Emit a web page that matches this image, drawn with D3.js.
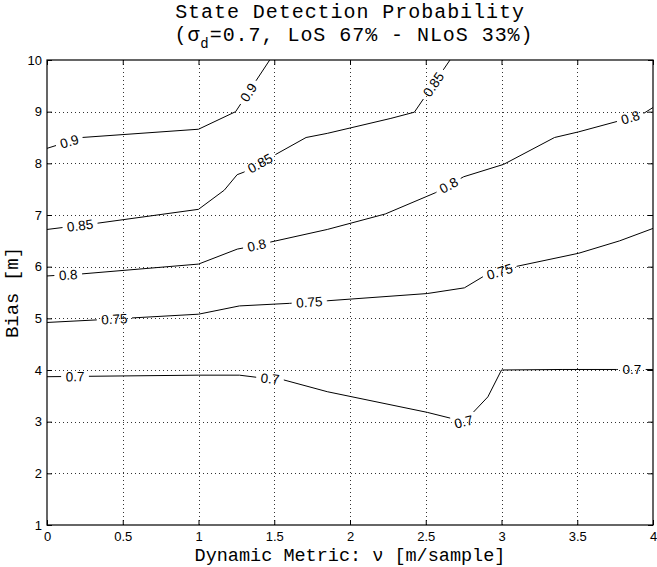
<!DOCTYPE html>
<html>
<head>
<meta charset="utf-8">
<script src="https://cdn.jsdelivr.net/npm/d3@7/dist/d3.min.js"></script>
<style>
  body { margin: 0; background: #fff; }
  svg { display: block; }
</style>
</head>
<body>
<svg id="chart" width="657" height="567"></svg>
<script>
// Axis ticks
const xTicks = [0, 0.5, 1, 1.5, 2, 2.5, 3, 3.5, 4];
const xTickLabels = ["0", "0.5", "1", "1.5", "2", "2.5", "3", "3.5", "4"];
const yTicks = [1, 2, 3, 4, 5, 6, 7, 8, 9, 10];
const yTickLabels = ["1", "2", "3", "4", "5", "6", "7", "8", "9", "10"];

// Contour level names
const levelNames = ["0.7", "0.75", "0.8", "0.85", "0.9"];

// Iso-probability lines: dynamic metric (x) vs bias (y), plus the x where each inline label sits
const c070x = [0, 1.0, 1.27, 1.38, 1.56, 1.85, 2.51, 2.66, 2.75, 2.81, 2.91, 3.0, 3.4, 3.76, 4.0];
const c070y = [3.87, 3.90, 3.90, 3.86, 3.81, 3.58, 3.18, 3.07, 3.0, 3.17, 3.48, 4.0, 4.01, 4.01, 4.01];
const c070lab = [0.185, 1.472, 2.75, 3.86];

const c075x = [0, 0.33, 1.0, 1.27, 1.6, 1.85, 2.51, 2.755, 2.88, 3.09, 3.51, 3.78, 4.0];
const c075y = [4.92, 4.97, 5.08, 5.24, 5.29, 5.34, 5.48, 5.59, 5.81, 6.0, 6.26, 6.50, 6.74];
const c075lab = [0.445, 1.731, 2.988];

const c080x = [0, 0.23, 1.0, 1.256, 1.32, 1.45, 1.85, 2.233, 2.563, 2.75, 3.014, 3.35, 3.51, 3.762, 3.94, 4.0];
const c080y = [5.82, 5.86, 6.05, 6.34, 6.375, 6.46, 6.72, 7.02, 7.43, 7.74, 7.98, 8.50, 8.61, 8.81, 8.97, 9.08];
const c080lab = [0.14, 1.384, 2.651, 3.85];

const c085x = [0, 0.33, 1.0, 1.17, 1.255, 1.30, 1.71, 1.85, 2.27, 2.425, 2.66];
const c085y = [6.72, 6.84, 7.11, 7.48, 7.78, 7.83, 8.50, 8.58, 8.87, 8.99, 10.0];
const c085lab = [0.218, 1.406, 2.55];

const c090x = [0, 0.229, 1.0, 1.245, 1.47];
const c090y = [8.29, 8.50, 8.66, 9.0, 10.0];
const c090lab = [0.147, 1.329];

const contours = [
  { name: levelNames[0], xs: c070x, ys: c070y, labels: c070lab },
  { name: levelNames[1], xs: c075x, ys: c075y, labels: c075lab },
  { name: levelNames[2], xs: c080x, ys: c080y, labels: c080lab },
  { name: levelNames[3], xs: c085x, ys: c085y, labels: c085lab },
  { name: levelNames[4], xs: c090x, ys: c090y, labels: c090lab }
];

const svg = d3.select("#chart");
const plot = { left: 47, right: 653, top: 60, bottom: 525 };

const x = d3.scaleLinear().domain([0, 4]).range([plot.left, plot.right]);
const y = d3.scaleLinear().domain([1, 10]).range([plot.bottom, plot.top]);

const sansFont = "'Liberation Sans', Arial, Helvetica, sans-serif";
const monoFont = "'Liberation Mono', 'Courier New', monospace";

// Dotted grid
const grid = svg.append("g").attr("class", "grid")
  .attr("stroke", "#333").attr("stroke-width", 1).attr("stroke-dasharray", "1,3");
grid.selectAll("line.vx").data(xTicks.slice(1, -1)).join("line")
  .attr("x1", d => Math.round(x(d)) + 0.5).attr("x2", d => Math.round(x(d)) + 0.5)
  .attr("y1", plot.top).attr("y2", plot.bottom);
grid.selectAll("line.hy").data(yTicks.slice(1, -1)).join("line")
  .attr("x1", plot.left).attr("x2", plot.right)
  .attr("y1", d => Math.round(y(d)) + 0.5).attr("y2", d => Math.round(y(d)) + 0.5);

// Axes with inward ticks on all four sides
function styleAxis(g) {
  g.select(".domain").remove();
  g.selectAll(".tick line").attr("stroke", "#000");
  g.selectAll(".tick text").attr("fill", "#000");
  g.attr("font-family", sansFont).attr("font-size", 13);
}
svg.append("g").attr("transform", `translate(0,${plot.bottom})`)
  .call(d3.axisBottom(x).tickValues(xTicks).tickFormat((d, i) => xTickLabels[i])
    .tickSizeInner(-5).tickSizeOuter(0).tickPadding(7))
  .call(styleAxis);
svg.append("g").attr("transform", `translate(0,${plot.top})`)
  .call(d3.axisTop(x).tickValues(xTicks).tickFormat("").tickSizeInner(-5).tickSizeOuter(0))
  .call(styleAxis);
svg.append("g").attr("transform", `translate(${plot.left},0)`)
  .call(d3.axisLeft(y).tickValues(yTicks).tickFormat((d, i) => yTickLabels[i])
    .tickSizeInner(-5).tickSizeOuter(0).tickPadding(5))
  .call(styleAxis);
svg.append("g").attr("transform", `translate(${plot.right},0)`)
  .call(d3.axisRight(y).tickValues(yTicks).tickFormat("").tickSizeInner(-5).tickSizeOuter(0))
  .call(styleAxis);

// Plot frame
svg.append("rect")
  .attr("x", plot.left).attr("y", plot.top)
  .attr("width", plot.right - plot.left).attr("height", plot.bottom - plot.top)
  .attr("fill", "none").attr("stroke", "#000").attr("stroke-width", 1.2);

// Contour lines with inline labels that break the line
const lineGen = d3.line();
const contourG = svg.append("g").attr("class", "contours");

contours.forEach(c => {
  const pts = c.xs.map((v, i) => [x(v), y(c.ys[i])]);
  const cum = [0];
  for (let i = 1; i < pts.length; i++) {
    cum.push(cum[i - 1] + Math.hypot(pts[i][0] - pts[i - 1][0], pts[i][1] - pts[i - 1][1]));
  }
  const total = cum[cum.length - 1];
  const pointAt = s => {
    s = Math.max(0, Math.min(total, s));
    let i = 1;
    while (i < cum.length - 1 && cum[i] < s) i++;
    const seg = cum[i] - cum[i - 1];
    const t = seg === 0 ? 0 : (s - cum[i - 1]) / seg;
    return [pts[i - 1][0] + t * (pts[i][0] - pts[i - 1][0]), pts[i - 1][1] + t * (pts[i][1] - pts[i - 1][1])];
  };

  const gaps = [];
  c.labels.forEach(lx => {
    let i = 0;
    while (i < c.xs.length - 2 && c.xs[i + 1] < lx) i++;
    const t = (lx - c.xs[i]) / (c.xs[i + 1] - c.xs[i]);
    const s0 = cum[i] + t * (cum[i + 1] - cum[i]);
    const p = pointAt(s0);
    const txt = contourG.append("text")
      .attr("font-family", sansFont).attr("font-size", 13.5)
      .attr("text-anchor", "middle").attr("dy", "0.36em")
      .attr("fill", "#000")
      .text(c.name);
    const hw = txt.node().getComputedTextLength() / 2 + 4.5;
    const a = pointAt(s0 - hw), b = pointAt(s0 + hw);
    let ang = Math.atan2(b[1] - a[1], b[0] - a[0]) * 180 / Math.PI;
    if (ang > 90) ang -= 180;
    if (ang < -90) ang += 180;
    txt.attr("transform", `translate(${p[0]},${p[1]}) rotate(${ang})`);
    gaps.push([s0 - hw, s0 + hw]);
  });

  gaps.sort((p, q) => p[0] - q[0]);
  const pieces = [];
  let start = 0;
  gaps.forEach(g => {
    if (g[0] > start) pieces.push([start, g[0]]);
    start = Math.max(start, g[1]);
  });
  if (start < total) pieces.push([start, total]);

  pieces.forEach(([s1, s2]) => {
    const seg = [pointAt(s1)];
    cum.forEach((cv, k) => { if (cv > s1 && cv < s2) seg.push(pts[k]); });
    seg.push(pointAt(s2));
    contourG.append("path")
      .attr("d", lineGen(seg))
      .attr("fill", "none").attr("stroke", "#000").attr("stroke-width", 1)
      .attr("stroke-linejoin", "round");
  });
});

// Two-line title
const cx = (plot.left + plot.right) / 2;
const title = svg.append("text")
  .attr("text-anchor", "middle")
  .attr("font-family", monoFont).attr("font-size", 20)
  .attr("letter-spacing", 0.95).attr("fill", "#000");
title.append("tspan").attr("x", cx).attr("y", 18.4).text("State Detection Probability");
const t2 = title.append("tspan").attr("x", cx + 4).attr("y", 41.2);
t2.append("tspan").text("(σ");
t2.append("tspan").attr("font-size", 14).attr("dy", 7).text("d");
t2.append("tspan").attr("dy", -7).text("=0.7, LoS 67% - NLoS 33%)");

// Axis labels
svg.append("text")
  .attr("x", cx).attr("y", 561)
  .attr("text-anchor", "middle")
  .attr("font-family", monoFont).attr("font-size", 18.5).attr("fill", "#000")
  .text("Dynamic Metric: ν [m/sample]");
svg.append("text")
  .attr("transform", `translate(18,${(plot.top + plot.bottom) / 2}) rotate(-90)`)
  .attr("text-anchor", "middle")
  .attr("font-family", monoFont).attr("font-size", 19).attr("fill", "#000")
  .text("Bias [m]");
</script>
</body>
</html>
